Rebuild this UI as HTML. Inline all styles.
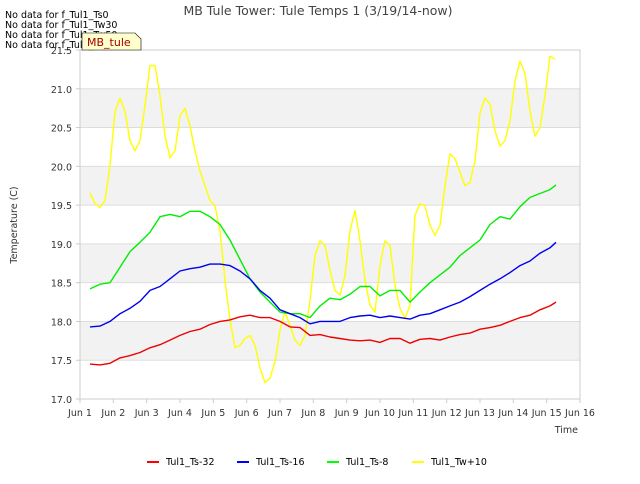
<!DOCTYPE html>
<html><head><meta charset="utf-8"><style>
body{margin:0;background:#fff;font-family:"DejaVu Sans","Liberation Sans",sans-serif}
svg text{font-family:"DejaVu Sans","Liberation Sans",sans-serif}
</style></head><body>
<svg id="c" width="640" height="480" xmlns="http://www.w3.org/2000/svg">
<rect width="640" height="480" fill="#fff"/>
<g id="bands"></g><g id="grid"></g>
<rect x="80" y="50" width="500" height="349" fill="none" stroke="#ccc"/>
<g id="axes"></g><g id="series"></g>
<text x="318" y="15" text-anchor="middle" font-size="12.5" fill="#444">MB Tule Tower: Tule Temps 1 (3/19/14-now)</text>
<text transform="translate(17,225) rotate(-90)" text-anchor="middle" font-size="9.5" fill="#333">Temperature (C)</text>
<text x="578" y="433" text-anchor="end" font-size="9.5" fill="#333">Time</text>
<g font-size="9.5" fill="#000">
<text x="5" y="18">No data for f_Tul1_Ts0</text>
<text x="5" y="28">No data for f_Tul1_Tw30</text>
<text x="5" y="38">No data for f_Tul1_Tw50</text>
<text x="5" y="48">No data for f_Tul1_Tw100</text>
</g>
<path d="M82,33 L135,33 L141,39 L141,50 L82,50 Z" fill="#ffffcc" stroke="#000" stroke-width="0.6"/>
<text x="87" y="46" font-size="11" fill="#a00000">MB_tule</text>
<g id="legend"></g>
</svg>
<script>
const yTicks=[17.0,17.5,18.0,18.5,19.0,19.5,20.0,20.5,21.0,21.5];
const xTickLabels=["Jun 1","Jun 2","Jun 3","Jun 4","Jun 5","Jun 6","Jun 7","Jun 8","Jun 9","Jun 10","Jun 11","Jun 12","Jun 13","Jun 14","Jun 15","Jun 16"];
const xTickDays=[1,2,3,4,5,6,7,8,9,10,11,12,13,14,15,16];
const coarseDays=[1.3,1.6,1.9,2.2,2.5,2.8,3.1,3.4,3.7,4.0,4.3,4.6,4.9,5.2,5.5,5.8,6.1,6.4,6.7,7.0,7.3,7.6,7.9,8.2,8.5,8.8,9.1,9.4,9.7,10.0,10.3,10.6,10.9,11.2,11.5,11.8,12.1,12.4,12.7,13.0,13.3,13.6,13.9,14.2,14.5,14.8,15.1,15.28];
const ts32=[17.45,17.44,17.46,17.53,17.56,17.6,17.66,17.7,17.76,17.82,17.87,17.9,17.96,18.0,18.02,18.06,18.08,18.05,18.05,18.0,17.93,17.92,17.82,17.83,17.8,17.78,17.76,17.75,17.76,17.73,17.78,17.78,17.72,17.77,17.78,17.76,17.8,17.83,17.85,17.9,17.92,17.95,18.0,18.05,18.08,18.15,18.2,18.25];
const ts16=[17.93,17.94,18.0,18.1,18.17,18.26,18.4,18.45,18.55,18.65,18.68,18.7,18.74,18.74,18.72,18.65,18.55,18.4,18.3,18.15,18.1,18.05,17.97,18.0,18.0,18.0,18.05,18.07,18.08,18.05,18.07,18.05,18.03,18.08,18.1,18.15,18.2,18.25,18.32,18.4,18.48,18.55,18.63,18.72,18.78,18.88,18.95,19.02];
const ts8=[18.42,18.48,18.5,18.7,18.9,19.02,19.15,19.35,19.38,19.35,19.42,19.42,19.35,19.25,19.05,18.8,18.55,18.38,18.25,18.12,18.1,18.1,18.05,18.2,18.3,18.28,18.35,18.45,18.45,18.33,18.4,18.4,18.25,18.38,18.5,18.6,18.7,18.85,18.95,19.05,19.25,19.35,19.32,19.48,19.6,19.65,19.7,19.76];
const tw10=[19.66,19.52,19.47,19.56,20.01,20.71,20.88,20.71,20.33,20.20,20.33,20.78,21.3,21.3,20.91,20.39,20.11,20.20,20.65,20.75,20.52,20.20,19.94,19.75,19.56,19.49,19.17,18.53,18.02,17.66,17.69,17.78,17.82,17.69,17.40,17.21,17.27,17.48,17.89,18.12,17.95,17.76,17.69,17.82,18.27,18.85,19.04,18.98,18.66,18.40,18.34,18.59,19.17,19.43,19.04,18.53,18.21,18.12,18.72,19.04,18.98,18.47,18.17,18.04,18.21,19.37,19.52,19.49,19.24,19.11,19.24,19.75,20.16,20.10,19.92,19.75,19.79,20.07,20.69,20.88,20.80,20.46,20.26,20.33,20.59,21.10,21.36,21.20,20.71,20.39,20.50,20.91,21.42,21.38];
const twDays=tw10.map((_,i)=>1.3+0.15*i);
const X=d=>80+(d-1)*(500/15);
const Y=v=>399-(v-17)*(349/4.5);
const NS="http://www.w3.org/2000/svg";
function mk(tag,parent,attrs){const e=document.createElementNS(NS,tag);for(const k in attrs)e.setAttribute(k,attrs[k]);parent.appendChild(e);return e;}
const bands=document.getElementById('bands'),grid=document.getElementById('grid'),axes=document.getElementById('axes'),series=document.getElementById('series'),legend=document.getElementById('legend');
for(let i=0;i<yTicks.length-1;i++){
  if(i%2===1){const r=mk('rect',bands,{x:80,y:Y(yTicks[i+1]),width:500,height:Y(yTicks[i])-Y(yTicks[i+1]),fill:'#f2f2f2'});
  
  }
}
yTicks.forEach(v=>{
  const l=mk('line',grid,{x1:80,x2:580,y1:Y(v),y2:Y(v),stroke:'#ddd'});
  
  
  const t=mk('text',axes,{x:72,y:Y(v)+4,'text-anchor':'end','font-size':9.5,fill:'#333'});
  t.textContent=v.toFixed(1);
  
  
  mk('line',axes,{x1:76,x2:80,y1:Y(v),y2:Y(v),stroke:'#ccc'});
});
xTickDays.forEach((d,i)=>{
  const t=mk('text',axes,{x:X(d),y:416,'text-anchor':'middle','font-size':9.5,fill:'#333'});
  t.textContent=xTickLabels[i];
  
  
  mk('line',axes,{x1:X(d),x2:X(d),y1:399,y2:403,stroke:'#ccc'});
});
function line(days,vals,color,name){
  const p=mk('polyline',series,{points:days.map((d,i)=>X(d).toFixed(1)+','+Y(vals[i]).toFixed(1)).join(' '),fill:'none',stroke:color,'stroke-width':1.4,'stroke-linejoin':'round'});
  
  
}
line(twDays,tw10,'#ffff00','series-tw10');
line(coarseDays,ts8,'#00ee00','series-ts-8');
line(coarseDays,ts16,'#0000ee','series-ts-16');
line(coarseDays,ts32,'#ee0000','series-ts-32');
const leg=[["Tul1_Ts-32","#ff0000",147],["Tul1_Ts-16","#0000ff",237],["Tul1_Ts-8","#00ff00",327],["Tul1_Tw+10","#ffff00",412]];
leg.forEach(([n,c,x])=>{
  const g=mk('g',legend,{});
  
  
  mk('line',g,{x1:x,x2:x+12,y1:462,y2:462,stroke:c,'stroke-width':2});
  const t=mk('text',g,{x:x+19,y:465,'font-size':9.5,fill:'#000'});
  t.textContent=n;
});
</script>
</body></html>
